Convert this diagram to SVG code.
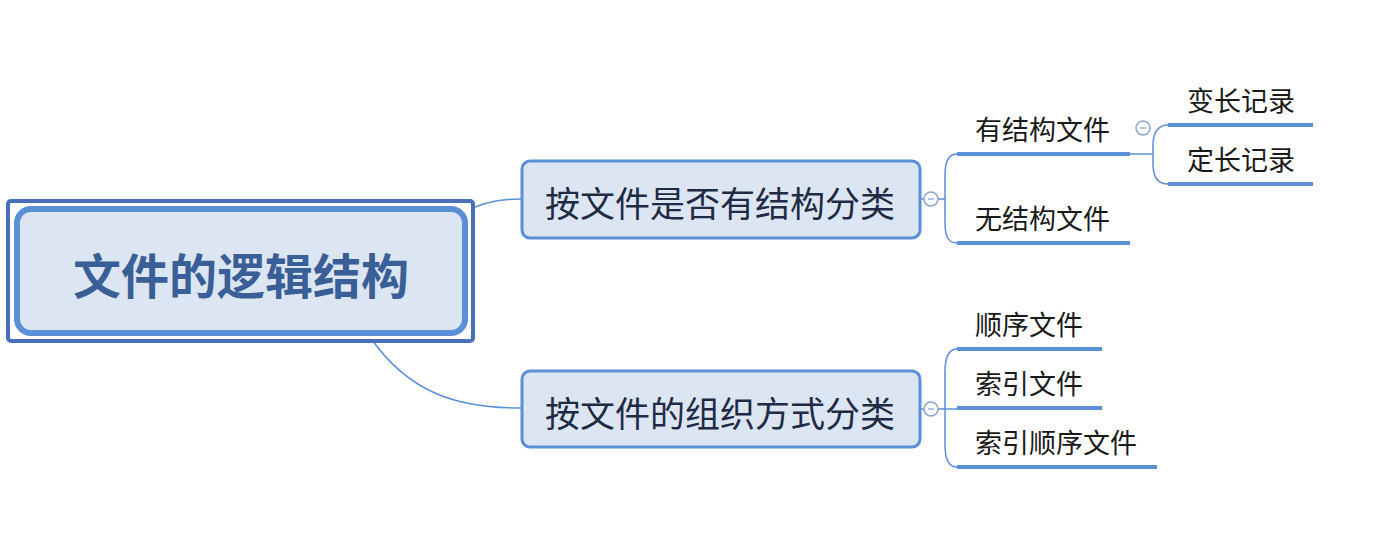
<svg xmlns="http://www.w3.org/2000/svg" width="1388" height="541" viewBox="0 0 1388 541">
<style>
.cjk{font-family:"Noto Sans CJK SC","Noto Sans",sans-serif}
.conn{fill:none;stroke:#5b8fd6;stroke-width:1.5}
.ul{stroke:#5b8fd6;stroke-width:4;stroke-linecap:butt}
.branch{fill:#dce6f2;stroke:#5b8fd6;stroke-width:3}
.btxt{font-size:35px;fill:#1f2a44;text-anchor:middle}
.ctxt{font-size:27px;fill:#1a1a1a}
.tog{fill:#fff;stroke:#8aa6d6;stroke-width:1.5}
.togm{stroke:#8aa6d6;stroke-width:1.3}
</style>
<rect width="1388" height="541" fill="#fff"/>
<g id="connectors">
<path class="conn" d="M466 212 C482 202 500 199 521 199"/>
<path class="conn" d="M370 337 C410 395 460 408 521 408"/>
<path class="conn" d="M920 199 L924 199"/>
<path class="conn" d="M938 199 L945 199"/>
<path class="conn" d="M957 154 C948 154 945 162 945 175 L945 222 C945 236 948 243 957 243"/>
<path class="conn" d="M920 409 L924 409"/>
<path class="conn" d="M938 409 L957 409"/>
<path class="conn" d="M957 349 C948 349 945 358 945 372 L945 445 C945 459 948 467 957 467"/>
<path class="conn" d="M1130 154 L1153 154"/>
<path class="conn" d="M1168 125 C1158 125 1153 133 1153 145 L1153 164 C1153 177 1158 184 1168 184"/>
</g>
<g id="root">
<rect x="8" y="201" width="465" height="140" rx="3" fill="#fff" stroke="#4a6fb8" stroke-width="4"/>
<rect x="17" y="209" width="448" height="124" rx="14" fill="#dce6f2" stroke="#5b8fd6" stroke-width="6"/>
<text class="cjk" x="241" y="294" font-size="48" font-weight="bold" fill="#3a5f96" text-anchor="middle">文件的逻辑结构</text>
</g>
<g id="n1">
<rect class="branch" x="522" y="161" width="398" height="77" rx="8"/>
<text class="cjk btxt" x="720" y="217">按文件是否有结构分类</text>
<circle class="tog" cx="931" cy="199" r="7"/>
<line class="togm" x1="928" y1="199" x2="934" y2="199"/>
</g>
<g id="n2">
<rect class="branch" x="522" y="371" width="398" height="76" rx="8"/>
<text class="cjk btxt" x="720" y="427">按文件的组织方式分类</text>
<circle class="tog" cx="931" cy="409" r="7"/>
<line class="togm" x1="928" y1="409" x2="934" y2="409"/>
</g>
<g id="n11">
<text class="cjk ctxt" x="975" y="140">有结构文件</text>
<line class="ul" x1="957" y1="154" x2="1130" y2="154"/>
<circle class="tog" cx="1143" cy="128" r="7"/>
<line class="togm" x1="1140" y1="128" x2="1146" y2="128"/>
</g>
<g id="n111">
<text class="cjk ctxt" x="1187" y="111">变长记录</text>
<line class="ul" x1="1168" y1="125" x2="1313" y2="125"/>
</g>
<g id="n112">
<text class="cjk ctxt" x="1187" y="170">定长记录</text>
<line class="ul" x1="1168" y1="184" x2="1313" y2="184"/>
</g>
<g id="n12">
<text class="cjk ctxt" x="975" y="229">无结构文件</text>
<line class="ul" x1="957" y1="243" x2="1130" y2="243"/>
</g>
<g id="n21">
<text class="cjk ctxt" x="975" y="335">顺序文件</text>
<line class="ul" x1="957" y1="349" x2="1102" y2="349"/>
</g>
<g id="n22">
<text class="cjk ctxt" x="975" y="394">索引文件</text>
<line class="ul" x1="957" y1="408" x2="1102" y2="408"/>
</g>
<g id="n23">
<text class="cjk ctxt" x="975" y="453">索引顺序文件</text>
<line class="ul" x1="957" y1="467" x2="1157" y2="467"/>
</g>
</svg>
